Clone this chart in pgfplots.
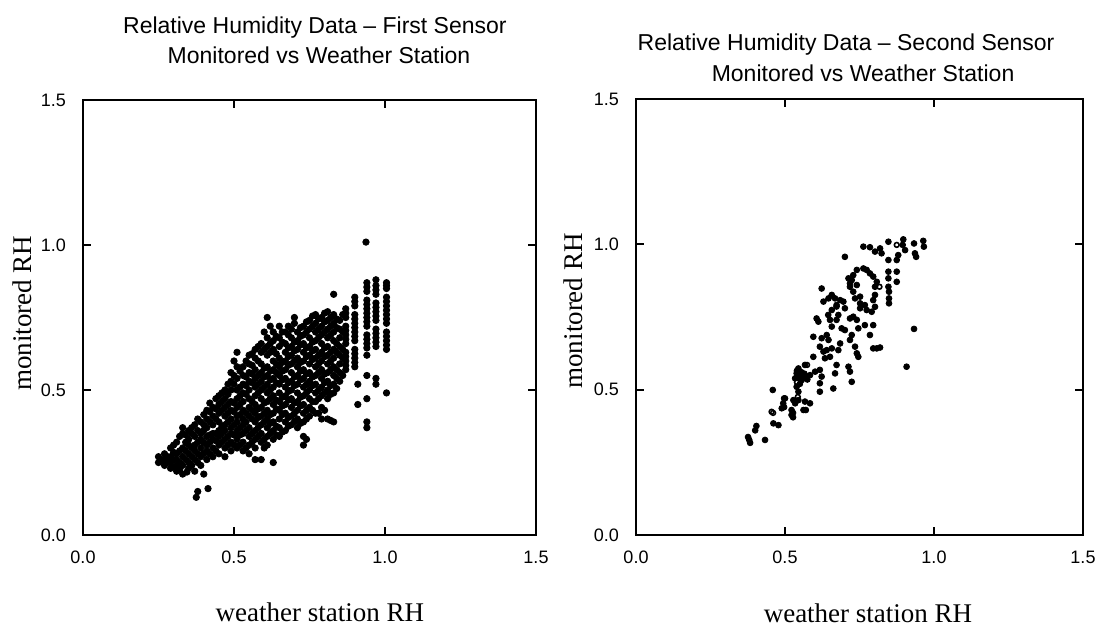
\documentclass[border=0pt]{standalone}
\usepackage{pgfplots}
\pgfplotsset{compat=1.18}
\usepackage{fontspec}
\setmainfont{Liberation Serif}
\newfontfamily\plotsans{Liberation Sans}

\begin{document}
\begin{tikzpicture}
\path[use as bounding box] (0,0) rectangle (549.5pt,313.5pt);
\pgfplotsset{
  rhaxis/.style={
    scale only axis, clip=false,
    xmin=0, xmax=1.5, ymin=0, ymax=1.5,
    xtick={0,0.5,1,1.5}, ytick={0,0.5,1,1.5},
    xticklabels={0.0,0.5,1.0,1.5}, yticklabels={0.0,0.5,1.0,1.5},
    tick align=inside, major tick length=4pt,
    tick style={black, line width=1pt},
    ticklabel style={font=\plotsans\fontsize{9}{9}\selectfont},
    xticklabel style={yshift=-4.5pt},
    yticklabel style={xshift=-5pt},
    label style={font=\fontsize{13.5}{14}\selectfont},
    anchor=south west,
  }
}

% ---------------- left: first sensor ----------------
\begin{axis}[rhaxis,
  at={(41.5pt,46pt)}, width=226.5pt, height=217.5pt,
  axis line style={line width=1.3pt},
  xlabel={weather station RH}, ylabel={monitored RH},
  xlabel style={at={(0.523,-0.177)}, anchor=center},
  ylabel style={at={(-0.135,0.51)}, anchor=center},
]
\node[font=\plotsans\fontsize{11.5}{12}\selectfont] at (axis description cs:0.512,1.1655) {Relative Humidity Data – First Sensor};
\node[font=\plotsans\fontsize{11.5}{12}\selectfont] at (axis description cs:0.521,1.1034) {Monitored vs Weather Station};
\addplot[only marks, mark=*, mark size=1.6pt, black] coordinates {
(0.25,0.25)(0.25,0.27)(0.26,0.26)
(0.27,0.24)(0.27,0.26)(0.27,0.28)
(0.29,0.23)(0.29,0.25)(0.29,0.27)(0.29,0.30)
(0.31,0.22)(0.31,0.24)(0.31,0.26)(0.31,0.28)(0.31,0.32)
(0.33,0.21)(0.33,0.24)(0.33,0.27)(0.33,0.30)(0.33,0.35)(0.33,0.37)
(0.35,0.23)(0.35,0.25)(0.35,0.28)(0.35,0.31)(0.35,0.33)(0.35,0.36)(0.344,0.217)
(0.37,0.22)(0.37,0.26)(0.37,0.29)(0.37,0.31)(0.37,0.34)(0.37,0.38)(0.38,0.15)(0.375,0.13)
(0.39,0.24)(0.39,0.27)(0.39,0.30)(0.39,0.33)(0.39,0.35)(0.39,0.39)(0.40,0.21)
(0.41,0.26)(0.41,0.29)(0.41,0.31)(0.41,0.34)(0.41,0.37)(0.41,0.40)(0.41,0.43)(0.414,0.16)
(0.43,0.27)(0.43,0.30)(0.43,0.33)(0.43,0.35)(0.43,0.38)(0.43,0.41)(0.43,0.44)
(0.45,0.28)(0.45,0.31)(0.45,0.34)(0.45,0.36)(0.45,0.39)(0.45,0.42)(0.45,0.45)(0.45,0.48)
(0.47,0.27)(0.47,0.30)(0.47,0.33)(0.47,0.36)(0.47,0.38)(0.47,0.41)(0.47,0.44)(0.47,0.47)(0.47,0.50)
(0.49,0.29)(0.49,0.32)(0.49,0.35)(0.49,0.37)(0.49,0.40)(0.49,0.43)(0.49,0.46)(0.49,0.50)(0.49,0.53)(0.49,0.56)
(0.51,0.30)(0.51,0.33)(0.51,0.36)(0.51,0.39)(0.51,0.41)(0.51,0.44)(0.51,0.47)(0.51,0.50)(0.51,0.54)(0.51,0.58)(0.51,0.63)
(0.53,0.29)(0.53,0.32)(0.53,0.35)(0.53,0.38)(0.53,0.40)(0.53,0.43)(0.53,0.46)(0.53,0.49)(0.53,0.52)(0.53,0.55)(0.53,0.58)
(0.55,0.28)(0.55,0.31)(0.55,0.34)(0.55,0.37)(0.55,0.41)(0.55,0.44)(0.55,0.47)(0.55,0.50)(0.55,0.53)(0.55,0.56)(0.55,0.59)(0.55,0.62)
(0.57,0.26)(0.57,0.30)(0.57,0.33)(0.57,0.36)(0.57,0.39)(0.57,0.42)(0.57,0.45)(0.57,0.48)(0.57,0.51)(0.57,0.54)(0.57,0.57)(0.57,0.61)(0.57,0.64)
(0.59,0.26)(0.59,0.32)(0.59,0.35)(0.59,0.38)(0.59,0.41)(0.59,0.44)(0.59,0.47)(0.59,0.50)(0.59,0.53)(0.59,0.56)(0.59,0.59)(0.59,0.63)(0.59,0.66)
(0.61,0.31)(0.61,0.34)(0.61,0.37)(0.61,0.40)(0.61,0.43)(0.61,0.46)(0.61,0.49)(0.61,0.52)(0.61,0.55)(0.61,0.58)(0.61,0.62)(0.61,0.65)(0.61,0.68)(0.61,0.75)
(0.63,0.25)(0.63,0.33)(0.63,0.36)(0.63,0.39)(0.63,0.42)(0.63,0.45)(0.63,0.48)(0.63,0.51)(0.63,0.54)(0.63,0.57)(0.63,0.60)(0.63,0.64)(0.63,0.67)(0.63,0.70)
(0.65,0.34)(0.65,0.37)(0.65,0.40)(0.65,0.43)(0.65,0.46)(0.65,0.49)(0.65,0.52)(0.65,0.55)(0.65,0.58)(0.65,0.61)(0.65,0.65)(0.65,0.68)(0.65,0.72)
(0.67,0.36)(0.67,0.39)(0.67,0.42)(0.67,0.45)(0.67,0.48)(0.67,0.51)(0.67,0.54)(0.67,0.57)(0.67,0.60)(0.67,0.63)(0.67,0.66)(0.67,0.70)
(0.69,0.38)(0.69,0.41)(0.69,0.44)(0.69,0.47)(0.69,0.50)(0.69,0.53)(0.69,0.56)(0.69,0.59)(0.69,0.62)(0.69,0.65)(0.69,0.68)(0.69,0.71)(0.70,0.75)
(0.71,0.37)(0.71,0.40)(0.71,0.43)(0.71,0.46)(0.71,0.49)(0.71,0.52)(0.71,0.55)(0.71,0.58)(0.71,0.61)(0.71,0.64)(0.71,0.67)(0.71,0.70)
(0.73,0.31)(0.73,0.34)(0.73,0.39)(0.73,0.42)(0.73,0.45)(0.73,0.48)(0.73,0.51)(0.73,0.54)(0.73,0.57)(0.73,0.60)(0.73,0.63)(0.73,0.66)(0.73,0.69)(0.73,0.72)
(0.75,0.41)(0.75,0.44)(0.75,0.47)(0.75,0.50)(0.75,0.53)(0.75,0.56)(0.75,0.59)(0.75,0.62)(0.75,0.65)(0.75,0.68)(0.75,0.71)(0.75,0.74)
(0.77,0.42)(0.77,0.46)(0.77,0.49)(0.77,0.52)(0.77,0.55)(0.77,0.58)(0.77,0.61)(0.77,0.64)(0.77,0.67)(0.77,0.70)(0.77,0.73)(0.77,0.76)
(0.79,0.40)(0.79,0.44)(0.79,0.48)(0.79,0.51)(0.79,0.54)(0.79,0.57)(0.79,0.60)(0.79,0.63)(0.79,0.66)(0.79,0.69)(0.79,0.72)(0.79,0.75)
(0.81,0.40)(0.81,0.47)(0.81,0.50)(0.81,0.53)(0.81,0.56)(0.81,0.59)(0.81,0.62)(0.81,0.65)(0.81,0.68)(0.81,0.71)(0.81,0.74)(0.81,0.77)
(0.83,0.39)(0.83,0.49)(0.83,0.52)(0.83,0.55)(0.83,0.58)(0.83,0.61)(0.83,0.64)(0.83,0.67)(0.83,0.70)(0.83,0.73)(0.83,0.76)(0.83,0.83)
(0.85,0.53)(0.85,0.56)(0.85,0.59)(0.85,0.62)(0.85,0.65)(0.85,0.68)(0.85,0.71)(0.85,0.74)
(0.87,0.57)(0.87,0.60)(0.87,0.63)(0.87,0.66)(0.87,0.69)(0.87,0.72)(0.87,0.75)(0.87,0.78)
(0.90,0.58)(0.90,0.61)(0.90,0.64)(0.90,0.67)(0.90,0.70)(0.90,0.73)(0.90,0.76)(0.90,0.79)(0.90,0.82)
(0.91,0.45)(0.91,0.52)
(0.94,0.37)(0.94,0.39)(0.94,0.47)(0.94,0.55)(0.94,0.62)(0.94,0.66)(0.94,0.69)(0.94,0.72)(0.94,0.75)(0.94,0.78)(0.94,0.81)(0.94,0.84)(0.94,0.87)(0.937,1.01)
(0.97,0.52)(0.97,0.54)(0.97,0.65)(0.97,0.68)(0.97,0.71)(0.97,0.74)(0.97,0.77)(0.97,0.80)(0.97,0.83)(0.97,0.86)(0.97,0.88)
(1.005,0.49)(1.005,0.64)(1.005,0.67)(1.005,0.70)(1.005,0.73)(1.005,0.76)(1.005,0.79)(1.005,0.82)(1.005,0.85)(1.005,0.87)
};
\addplot[only marks, mark=*, mark size=1.6pt, black] coordinates {
(0.26,0.255)(0.28,0.25)(0.28,0.27)
(0.30,0.235)(0.30,0.26)(0.30,0.285)(0.30,0.31)
(0.32,0.225)(0.32,0.25)(0.32,0.29)(0.32,0.34)
(0.34,0.26)(0.34,0.29)(0.34,0.32)(0.34,0.345)
(0.36,0.24)(0.36,0.27)(0.36,0.30)(0.36,0.35)(0.36,0.37)
(0.38,0.25)(0.38,0.28)(0.38,0.32)(0.38,0.36)(0.38,0.40)
(0.40,0.28)(0.40,0.32)(0.40,0.36)(0.40,0.38)(0.40,0.415)
(0.42,0.28)(0.42,0.32)(0.42,0.345)(0.42,0.39)(0.42,0.425)(0.42,0.455)
(0.44,0.29)(0.44,0.325)(0.44,0.35)(0.44,0.40)(0.44,0.435)(0.44,0.47)
(0.46,0.32)(0.46,0.35)(0.46,0.375)(0.46,0.43)(0.46,0.46)(0.46,0.49)
(0.48,0.31)(0.48,0.34)(0.48,0.39)(0.48,0.42)(0.48,0.45)(0.48,0.485)(0.48,0.52)
(0.50,0.31)(0.50,0.345)(0.50,0.38)(0.50,0.425)(0.50,0.455)(0.50,0.52)(0.50,0.55)(0.50,0.60)
(0.52,0.31)(0.52,0.345)(0.52,0.37)(0.52,0.415)(0.52,0.45)(0.52,0.48)(0.52,0.51)(0.52,0.565)
(0.54,0.30)(0.54,0.36)(0.54,0.39)(0.54,0.42)(0.54,0.485)(0.54,0.515)(0.54,0.545)(0.54,0.60)
(0.56,0.32)(0.56,0.35)(0.56,0.40)(0.56,0.43)(0.56,0.46)(0.56,0.525)(0.56,0.555)(0.56,0.585)(0.56,0.625)
(0.58,0.34)(0.58,0.37)(0.58,0.405)(0.58,0.435)(0.58,0.49)(0.58,0.52)(0.58,0.55)(0.58,0.60)(0.58,0.65)
(0.60,0.30)(0.60,0.33)(0.60,0.39)(0.60,0.42)(0.60,0.455)(0.60,0.51)(0.60,0.545)(0.60,0.575)(0.60,0.64)(0.60,0.70)
(0.62,0.35)(0.62,0.385)(0.62,0.415)(0.62,0.47)(0.62,0.50)(0.62,0.535)(0.62,0.565)(0.62,0.63)(0.62,0.66)(0.62,0.72)
(0.64,0.345)(0.64,0.375)(0.64,0.435)(0.64,0.465)(0.64,0.525)(0.64,0.56)(0.64,0.59)(0.64,0.625)(0.64,0.685)
(0.66,0.355)(0.66,0.415)(0.66,0.445)(0.66,0.475)(0.66,0.535)(0.66,0.565)(0.66,0.595)(0.66,0.665)(0.66,0.70)
(0.68,0.375)(0.68,0.405)(0.68,0.465)(0.68,0.495)(0.68,0.525)(0.68,0.585)(0.68,0.615)(0.68,0.645)(0.68,0.69)(0.68,0.72)
(0.70,0.39)(0.70,0.42)(0.70,0.455)(0.70,0.515)(0.70,0.545)(0.70,0.60)(0.70,0.635)(0.70,0.665)(0.70,0.73)
(0.72,0.385)(0.72,0.445)(0.72,0.475)(0.72,0.535)(0.72,0.565)(0.72,0.595)(0.72,0.655)(0.72,0.685)(0.72,0.715)
(0.74,0.33)(0.74,0.40)(0.74,0.43)(0.74,0.49)(0.74,0.52)(0.74,0.555)(0.74,0.615)(0.74,0.645)(0.74,0.70)(0.74,0.735)
(0.76,0.43)(0.76,0.46)(0.76,0.515)(0.76,0.545)(0.76,0.605)(0.76,0.635)(0.76,0.665)(0.76,0.72)(0.76,0.755)
(0.78,0.42)(0.78,0.47)(0.78,0.50)(0.78,0.56)(0.78,0.59)(0.78,0.62)(0.78,0.68)(0.78,0.71)(0.78,0.745)
(0.80,0.43)(0.80,0.49)(0.80,0.525)(0.80,0.555)(0.80,0.615)(0.80,0.645)(0.80,0.70)(0.80,0.735)(0.80,0.765)
(0.82,0.395)(0.82,0.485)(0.82,0.515)(0.82,0.57)(0.82,0.60)(0.82,0.63)(0.82,0.69)(0.82,0.72)(0.82,0.75)
(0.84,0.505)(0.84,0.54)(0.84,0.57)(0.84,0.63)(0.84,0.66)(0.84,0.715)(0.84,0.745)
(0.86,0.55)(0.86,0.61)(0.86,0.64)(0.86,0.70)(0.86,0.76)
(0.87,0.585)(0.87,0.615)(0.87,0.675)(0.87,0.705)(0.87,0.765)
(0.90,0.595)(0.90,0.625)(0.90,0.685)(0.90,0.715)(0.90,0.745)(0.90,0.805)
(0.94,0.645)(0.94,0.675)(0.94,0.735)(0.94,0.765)(0.94,0.795)(0.94,0.855)
(0.97,0.665)(0.97,0.695)(0.97,0.755)(0.97,0.785)(0.97,0.845)
(1.005,0.655)(1.005,0.685)(1.005,0.745)(1.005,0.775)(1.005,0.805)(1.005,0.86)
};
\end{axis}

% ---------------- right: second sensor ----------------
\begin{axis}[rhaxis,
  at={(318pt,46pt)}, width=223.5pt, height=218pt,
  axis line style={line width=0.9pt},
  xlabel={weather station RH}, ylabel={monitored RH},
  xlabel style={at={(0.519,-0.179)}, anchor=center},
  ylabel style={at={(-0.141,0.514)}, anchor=center},
]
\node[font=\plotsans\fontsize{11.5}{12}\selectfont] at (axis description cs:0.470,1.1239) {Relative Humidity Data – Second Sensor};
\node[font=\plotsans\fontsize{11.5}{12}\selectfont] at (axis description cs:0.508,1.0596) {Monitored vs Weather Station};
\addplot[only marks, mark=*, mark size=1.45pt, black] coordinates {
(0.964,1.012)(0.966,0.992)(0.933,1.003)(0.936,0.969)(0.940,0.957)(0.897,1.017)(0.895,0.998)(0.903,0.980)
(0.880,0.963)(0.875,0.946)(0.847,1.009)(0.819,0.986)(0.824,0.969)(0.802,0.975)(0.785,0.990)(0.763,0.992)
(0.847,0.946)(0.847,0.906)(0.875,0.906)(0.875,0.871)(0.847,0.883)(0.847,0.854)(0.849,0.837)(0.849,0.814)(0.849,0.797)
(0.802,0.854)(0.808,0.871)(0.796,0.889)(0.785,0.900)(0.774,0.912)(0.763,0.917)(0.741,0.912)(0.729,0.894)
(0.741,0.860)(0.724,0.877)(0.718,0.854)(0.729,0.837)(0.735,0.814)(0.752,0.820)(0.752,0.797)(0.752,0.780)
(0.768,0.791)(0.774,0.774)(0.802,0.826)(0.796,0.808)(0.802,0.785)(0.791,0.768)(0.701,0.957)(0.713,0.883)
(0.718,0.866)(0.657,0.826)(0.668,0.814)(0.673,0.791)(0.696,0.803)(0.701,0.780)(0.629,0.803)(0.679,0.757)
(0.645,0.757)(0.651,0.740)(0.657,0.717)(0.673,0.740)(0.690,0.711)(0.718,0.745)(0.729,0.751)(0.741,0.740)
(0.746,0.711)(0.768,0.722)(0.796,0.722)(0.785,0.688)(0.724,0.688)(0.718,0.671)(0.735,0.648)(0.606,0.745)
(0.612,0.734)(0.595,0.682)(0.623,0.677)(0.640,0.688)(0.646,0.671)(0.685,0.659)(0.679,0.636)(0.657,0.642)
(0.640,0.636)(0.629,0.631)(0.617,0.648)(0.634,0.608)(0.651,0.613)(0.673,0.585)(0.668,0.556)(0.713,0.579)
(0.718,0.562)(0.724,0.527)(0.595,0.613)(0.567,0.585)(0.545,0.573)(0.539,0.556)(0.550,0.545)(0.534,0.539)
(0.556,0.533)(0.573,0.545)(0.584,0.550)(0.601,0.562)(0.617,0.568)(0.623,0.545)(0.617,0.522)(0.617,0.493)
(0.662,0.504)(0.539,0.510)(0.545,0.493)(0.528,0.464)(0.545,0.464)(0.567,0.459)(0.584,0.453)(0.562,0.430)
(0.534,0.453)(0.522,0.430)(0.522,0.413)(0.500,0.470)(0.494,0.453)(0.489,0.436)(0.459,0.499)(0.461,0.384)
(0.478,0.378)(0.433,0.327)(0.796,0.642)(0.808,0.642)(0.819,0.645)(0.741,0.625)(0.746,0.613)(0.908,0.579)
(0.933,0.709)(0.623,0.848)(0.646,0.814)(0.657,0.774)(0.673,0.786)(0.685,0.808)(0.701,0.705)
(0.376,0.337)(0.383,0.317)(0.380,0.327)(0.400,0.360)(0.404,0.375)(0.497,0.440)(0.497,0.470)(0.527,0.420)(0.527,0.405)(0.570,0.430)
(0.545,0.550)(0.555,0.560)(0.560,0.540)(0.550,0.520)(0.565,0.555)(0.575,0.535)(0.540,0.565)(0.552,0.535)(0.562,0.548)
};
\addplot[only marks, mark=o, mark size=1.2pt, black, thick] coordinates {
(0.875,0.998)(0.817,0.854)(0.455,0.424)(0.543,0.568)(0.540,0.526)(0.574,0.585)(0.543,0.475)(0.460,0.420)
};
\end{axis}
\end{tikzpicture}
\end{document}
